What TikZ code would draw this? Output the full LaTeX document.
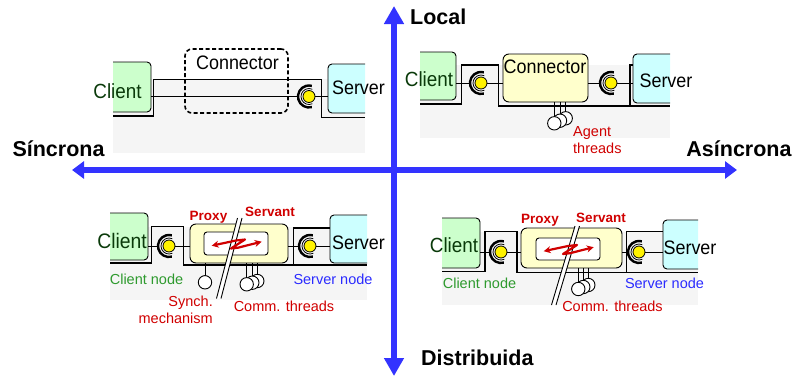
\documentclass[tikz,border=0pt]{standalone}
\usepackage{fontspec}
\setmainfont{Liberation Sans}
\newfontfamily\narfont[FakeStretch=0.92]{Liberation Sans}
\usetikzlibrary{arrows.meta}
\definecolor{axisblue}{HTML}{3333FF}
\definecolor{cgreen}{HTML}{CCFFCC}
\definecolor{scyan}{HTML}{CCFFFF}
\definecolor{cyel}{HTML}{FFFFCC}
\definecolor{panelgray}{HTML}{F5F5F5}
\definecolor{dkgreen}{HTML}{0A3A0A}
\definecolor{ngreen}{HTML}{2E9A2E}
\definecolor{nblue}{HTML}{2B2BFF}
\definecolor{dred}{HTML}{D00000}
\newcommand\sock[3]{%
  \node[ball] (#1) at (#2,#3) {};
  \draw[line width=2.4pt] (#1.center) ++(75:11) arc[start angle=75,end angle=285,radius=11];
  \draw[line width=0.8pt] (#1.center) ++(65:8) arc[start angle=65,end angle=295,radius=8];
  \coordinate (#1L) at ([xshift=-12.2pt]#1.center);
}
\tikzset{
  box/.style={draw, line width=0.9pt, rounded corners=4pt, inner sep=0pt},
  clbox/.style={box, fill=cgreen},
  svbox/.style={box, fill=scyan},
  cnbox/.style={box, fill=cyel, rounded corners=6pt},
  inbox/.style={box, fill=white, rounded corners=3pt},
  frame/.style={line width=1.1pt},
  wire/.style={line width=1pt},
  ball/.style={circle, draw, fill=yellow, minimum size=12pt, inner sep=0pt, line width=0.8pt},
  thread/.style={circle, draw, fill=white, minimum size=13.4pt, inner sep=0pt, line width=0.9pt},
  big/.style={font=\narfont\fontsize{20.5}{20.5}\selectfont, inner sep=0pt, anchor=base},
  bigs/.style={font=\narfont\fontsize{19.5}{19.5}\selectfont, inner sep=0pt, anchor=base},
  midt/.style={font=\fontsize{14.5}{16}\selectfont, inner sep=0pt, anchor=base},
  redb/.style={font=\bfseries\fontsize{13.5}{14}\selectfont, text=dred, inner sep=0pt, anchor=base},
  axl/.style={font=\bfseries\fontsize{21.5}{21.5}\selectfont, inner sep=0pt, anchor=base},
  axis/.style={draw=axisblue, line width=6pt},
  cut/.style={line width=0.9pt},
  redarr/.style={draw=dred, line width=2.2pt, line join=round, {Stealth[length=7pt,width=7pt]}-{Stealth[length=7pt,width=7pt]}}
}
\begin{document}
\begin{tikzpicture}[x=1pt,y=-1pt]
\useasboundingbox (0,0) rectangle (796,380);

% ================= Top-left: local, synchronous =================
\fill[panelgray] (113,79) rectangle (365,153);
\draw[frame] (113,116) -- (153.3,116) -- (153.3,79.3) -- (321.7,79.3) -- (321.7,117.3) -- (365,117.3);
\begin{scope}
  \clip (113,0) rectangle (365,380);
  \node[clbox, minimum width=46pt, minimum height=50pt] (c1) at (128,87) {};
  \node[svbox, minimum width=45pt, minimum height=49pt] (s1) at (350.5,88.5) {};
\end{scope}
\node[draw, line width=1.6pt, rounded corners=7pt, dash pattern=on 4pt off 2.5pt,
      minimum width=103pt, minimum height=64pt, inner sep=0pt] (k1) at (236.5,81) {};
\sock{b1}{309}{96.5}
\draw[wire] (c1.east |- b1) -- (b1L);
\draw[wire] (b1.east) -- (s1.west |- b1);
\node[big, text=dkgreen] (t1c) at (117.5,98) {Client};
\node[bigs] (t1s) at (358.5,94.5) {Server};
\node[bigs] (t1k) at (237.5,69.5) {Connector};

% ================= Top-right: local, asynchronous =================
\fill[panelgray] (420,65) rectangle (670,138);
\draw[frame] (420,104) -- (461.7,104) -- (461.7,65) -- (498.3,65) -- (498.3,106) -- (670,106);
\draw[frame] (630,106) -- (630,65) -- (633.3,65);
\begin{scope}
  \clip (420,0) rectangle (670,380);
  \node[clbox, minimum width=44pt, minimum height=48pt] (c2) at (434,76) {};
  \node[svbox, minimum width=45pt, minimum height=49pt] (s2) at (655.5,78.5) {};
\end{scope}
\node[cnbox, minimum width=85pt, minimum height=48pt] (k2) at (545.5,78) {};
\sock{b2}{481}{83}
\sock{b3}{611}{83}
\draw[wire] (c2.east |- b2) -- (b2L);
\draw[wire] (b2.east) -- (k2.west |- b2);
\draw[wire] (k2.east |- b3) -- (b3L);
\draw[wire] (b3.east) -- (s2.west |- b3);
\coordinate (th2a) at (565.7,118.3);
\coordinate (th2b) at (560,120.7);
\coordinate (th2c) at (554.3,123.3);
\draw[wire] (th2a |- k2.south) -- (th2a);
\draw[wire] (th2b |- k2.south) -- (th2b);
\draw[wire] (th2c |- k2.south) -- (th2c);
\node[thread] (n2a) at (th2a) {};
\node[thread] (n2b) at (th2b) {};
\node[thread] (n2c) at (th2c) {};
\node[big, text=dkgreen] (t2c) at (429,86) {Client};
\node[bigs] (t2k) at (545,73.3) {Connector};
\node[bigs] (t2s) at (666,87.7) {Server};
\node[midt, text=dred, anchor=base west] (t2a) at (573,136) {Agent};
\node[midt, text=dred, anchor=base west] (t2t) at (573,153.3) {threads};

% ================= Bottom-left: distributed, synchronous =================
\fill[panelgray] (110,227) rectangle (367,300);
\draw[frame] (110,263) -- (151.7,263) -- (151.7,226.7) -- (183.3,226.7) -- (183.3,265) -- (367,265);
\draw[frame] (293.3,265) -- (293.3,228) -- (330,228);
\begin{scope}
  \clip (110,0) rectangle (367,380);
  \node[clbox, minimum width=46pt, minimum height=47pt] (c3) at (125,236.5) {};
  \node[svbox, minimum width=45pt, minimum height=48pt] (s3) at (352.5,239) {};
\end{scope}
\node[cnbox, minimum width=98pt, minimum height=39pt] (k3) at (239,243.5) {};
\node[inbox, minimum width=64pt, minimum height=23pt] (i3) at (236,243.5) {};
\sock{b4}{169}{246}
\sock{b5}{310}{246}
\draw[wire] (c3.east |- b4) -- (b4L);
\draw[wire] (b4.east) -- (k3.west |- b4);
\draw[wire] (k3.east |- b5) -- (b5L);
\draw[wire] (b5.east) -- (s3.west |- b5);
\coordinate (sy3) at (205,282.3);
\draw[wire] (sy3 |- k3.south) -- (sy3);
\node[thread] (n3s) at (sy3) {};
\coordinate (th3a) at (257.3,281);
\coordinate (th3b) at (252.3,282.7);
\coordinate (th3c) at (246.7,284.3);
\draw[wire] (th3a |- k3.south) -- (th3a);
\draw[wire] (th3b |- k3.south) -- (th3b);
\draw[wire] (th3c |- k3.south) -- (th3c);
\node[thread] (n3a) at (th3a) {};
\node[thread] (n3b) at (th3b) {};
\node[thread] (n3c) at (th3c) {};
\fill[white] (237.5,218) -- (242,218) -- (221,298.5) -- (216.5,298.5) -- cycle;
\draw[cut] (237.5,218) -- (216.5,298.5);
\draw[cut] (242,218) -- (221,298.5);
\draw[redarr] (211.7,245.7) -- (236,240.5) -- (245,239.5) -- (231,248.5) -- (238,247.7) -- (261.7,241.7);
\node[redb] (t3p) at (208.5,220) {Proxy};
\node[redb] (t3v) at (270,216.7) {Servant};
\node[big, text=dkgreen, font=\narfont\fontsize{21}{21}\selectfont] (t3c) at (122,248.3) {Client};
\node[bigs] (t3s) at (358.5,249) {Server};
\node[midt, text=ngreen] (t3cn) at (146.5,284.3) {Client node};
\node[midt, text=nblue] (t3sn) at (333,284.3) {Server node};
\node[midt, text=dred, anchor=base east] (t3y) at (213,306.7) {Synch.};
\node[midt, text=dred, anchor=base east] (t3m) at (213,323.3) {mechanism};
\node[midt, text=dred] (t3t) at (284,311) {Comm. threads};

% ================= Bottom-right: distributed, asynchronous =================
\fill[panelgray] (442,232) rectangle (698,305);
\draw[frame] (442,271.7) -- (485,271.7) -- (485,231.7) -- (517,231.7) -- (517,272.3) -- (698,272.3);
\draw[frame] (626.7,272.3) -- (626.7,231.7) -- (663,231.7);
\begin{scope}
  \clip (442,0) rectangle (698,380);
  \node[clbox, minimum width=46pt, minimum height=50pt] (c4) at (457,243) {};
  \node[svbox, minimum width=45pt, minimum height=49pt] (s4) at (685.5,244.5) {};
\end{scope}
\node[cnbox, minimum width=101pt, minimum height=40pt] (k4) at (571.5,248) {};
\node[inbox, minimum width=64pt, minimum height=22pt] (i4) at (568,249) {};
\sock{b6}{501}{252}
\sock{b7}{639}{252}
\draw[wire] (c4.east |- b6) -- (b6L);
\draw[wire] (b6.east) -- (k4.west |- b6);
\draw[wire] (k4.east |- b7) -- (b7L);
\draw[wire] (b7.east) -- (s4.west |- b7);
\coordinate (th4a) at (588.3,285);
\coordinate (th4b) at (583.3,287);
\coordinate (th4c) at (578.3,289);
\draw[wire] (th4a |- k4.south) -- (th4a);
\draw[wire] (th4b |- k4.south) -- (th4b);
\draw[wire] (th4c |- k4.south) -- (th4c);
\node[thread] (n4a) at (th4a) {};
\node[thread] (n4b) at (th4b) {};
\node[thread] (n4c) at (th4c) {};
\fill[white] (575,226) -- (579.5,226) -- (556,305) -- (551.5,305) -- cycle;
\draw[cut] (575,226) -- (551.5,305);
\draw[cut] (579.5,226) -- (556,305);
\begin{scope}[shift={(332,5.5)}]
\draw[redarr] (211.7,245.7) -- (236,240.5) -- (245,239.5) -- (231,248.5) -- (238,247.7) -- (261.7,241.7);
\end{scope}
\node[redb] (t4p) at (540,223.3) {Proxy};
\node[redb] (t4v) at (601,222.3) {Servant};
\node[big, text=dkgreen] (t4c) at (454,252.3) {Client};
\node[bigs] (t4s) at (690,254.3) {Server};
\node[midt, text=ngreen] (t4cn) at (479.5,288.3) {Client node};
\node[midt, text=nblue] (t4sn) at (664.5,288.3) {Server node};
\node[midt, text=dred] (t4t) at (612.5,311.7) {Comm. threads};

% ================= Axes =================
\coordinate (axT) at (394,6);
\coordinate (axB) at (394,376);
\coordinate (axL) at (72,170);
\coordinate (axR) at (737,170);
\draw[axis, {Triangle[length=18pt,width=19pt]}-{Triangle[length=18pt,width=19pt]}] (axT) -- (axB);
\draw[axis, {Triangle[length=12pt,width=17pt]}-{Triangle[length=12pt,width=17pt]}] (axL) -- (axR);
\node[axl, anchor=base west] (lLoc) at (410,24) {Local};
\node[axl] (lSin) at (58.5,156.7) {Síncrona};
\node[axl] (lAsin) at (739,156.7) {Asíncrona};
\node[axl, anchor=base west] (lDis) at (421,365) {Distribuida};
\end{tikzpicture}
\end{document}
